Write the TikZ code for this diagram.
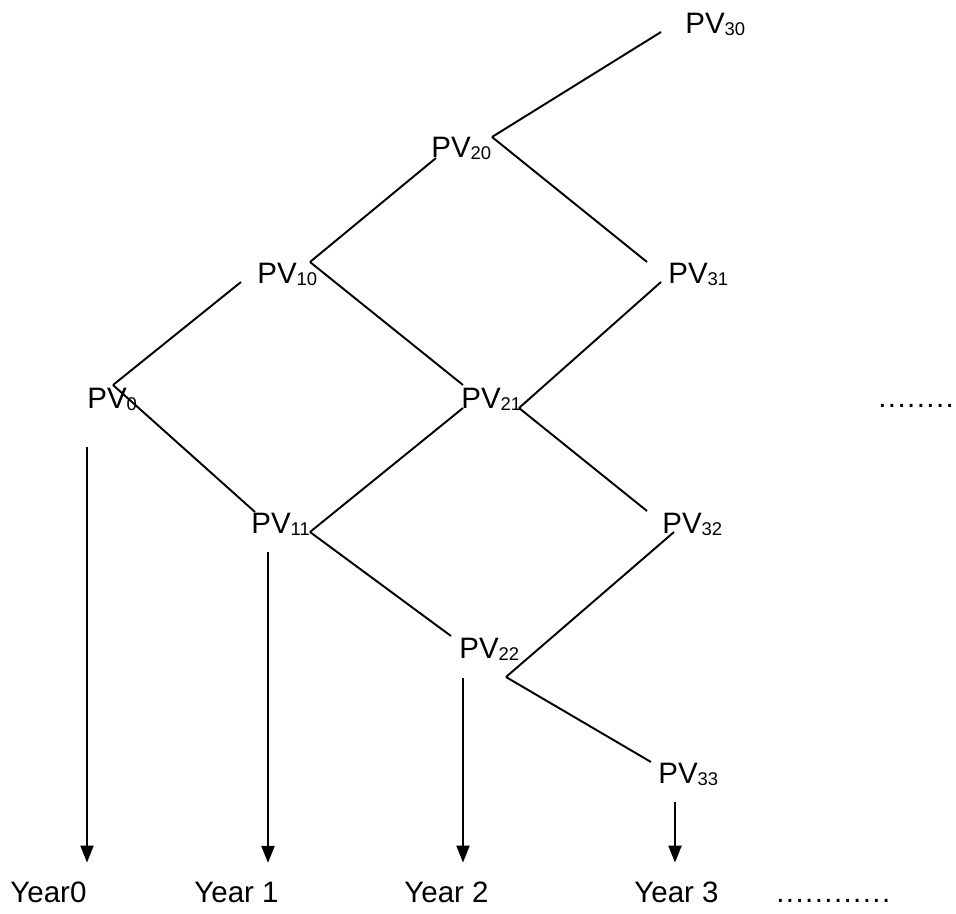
\documentclass[tikz,border=0pt]{standalone}
\usepackage{fontspec}
\setmainfont{Liberation Sans}
\usepackage{tikz}
\usetikzlibrary{arrows.meta}
\newcommand{\pvsub}[1]{PV\raisebox{-1.5pt}{\fontsize{10.5pt}{11pt}\selectfont #1}}
\newcommand{\dotrun}[1]{\foreach \d in {1,...,#1}{.\kern0.8pt}}
\tikzset{
  pvlabel/.style={
    anchor=base west,
    inner sep=0pt,
    font=\fontsize{16.8pt}{20pt}\selectfont
  },
  yearlabel/.style={
    anchor=base west,
    inner xsep=0pt,
    inner ysep=0.37cm,
    font=\fontsize{16.8pt}{20pt}\selectfont
  },
  treeline/.style={
    line width=1.1pt,
    draw=black
  },
  timearrow/.style={
    -{Triangle[length=0.34cm,width=0.26cm]},
    line width=1.3pt,
    draw=black
  }
}

\begin{document}
\begin{tikzpicture}[x=0.02cm, y=-0.02cm]
\useasboundingbox (0,0) rectangle (956,913);

% present values
\node[pvlabel] (pv30) at (685,33) {\pvsub{30}};
\node[pvlabel] (pv20) at (431,157) {\pvsub{20}};
\node[pvlabel] (pv10) at (257,283) {\pvsub{10}};
\node[pvlabel] (pv31) at (668,283) {\pvsub{31}};
\node[pvlabel] (pv0) at (87,408) {\pvsub{0}};
\node[pvlabel] (pv21) at (461,408) {\pvsub{21}};
\node[pvlabel] (pv11) at (251,533) {\pvsub{11}};
\node[pvlabel] (pv32) at (662,533) {\pvsub{32}};
\node[pvlabel] (pv22) at (459,658) {\pvsub{22}};
\node[pvlabel] (pv33) at (658,783) {\pvsub{33}};
\node[pvlabel] (more) at (878,407) {\dotrun{8}};

% time axis
\node[yearlabel] (year0) at (10,902) {Year0};
\node[yearlabel] (year1) at (194,902) {Year 1};
\node[yearlabel] (year2) at (404,902) {Year 2};
\node[yearlabel] (year3) at (634,902) {Year 3};
\node[pvlabel] (yearmore) at (776,902) {\dotrun{12}};

% branch points
\coordinate (j0) at (113,385);
\coordinate (j10) at (310,262);
\coordinate (j11) at (310,532);
\coordinate (j20) at (492,137);
\coordinate (j21) at (519,408);
\coordinate (j22) at (506,677);
\coordinate (e10) at (241,282);
\coordinate (e11) at (255,512);
\coordinate (e20) at (436,158);
\coordinate (e21a) at (463,385);
\coordinate (e21b) at (463,408);
\coordinate (e22) at (451,636);
\coordinate (e30) at (661,32);
\coordinate (e31a) at (647,262);
\coordinate (e31b) at (661,282);
\coordinate (e32a) at (647,511);
\coordinate (e32b) at (674,532);
\coordinate (e33) at (651,762);

\draw[treeline] (j0) -- (e10);
\draw[treeline] (j0) -- (e11);
\draw[treeline] (j10) -- (e20);
\draw[treeline] (j10) -- (e21a);
\draw[treeline] (j11) -- (e21b);
\draw[treeline] (j11) -- (e22);
\draw[treeline] (j20) -- (e30);
\draw[treeline] (j20) -- (e31a);
\draw[treeline] (j21) -- (e31b);
\draw[treeline] (j21) -- (e32a);
\draw[treeline] (j22) -- (e32b);
\draw[treeline] (j22) -- (e33);

% arrows down to the years
\coordinate (s0) at (87,447);
\coordinate (s1) at (268,552);
\coordinate (s2) at (463,678);
\coordinate (s3) at (675,802);
\draw[timearrow] (s0) -- (s0 |- year0.north);
\draw[timearrow] (s1) -- (s1 |- year1.north);
\draw[timearrow] (s2) -- (s2 |- year2.north);
\draw[timearrow] (s3) -- (s3 |- year3.north);
\end{tikzpicture}
\end{document}
